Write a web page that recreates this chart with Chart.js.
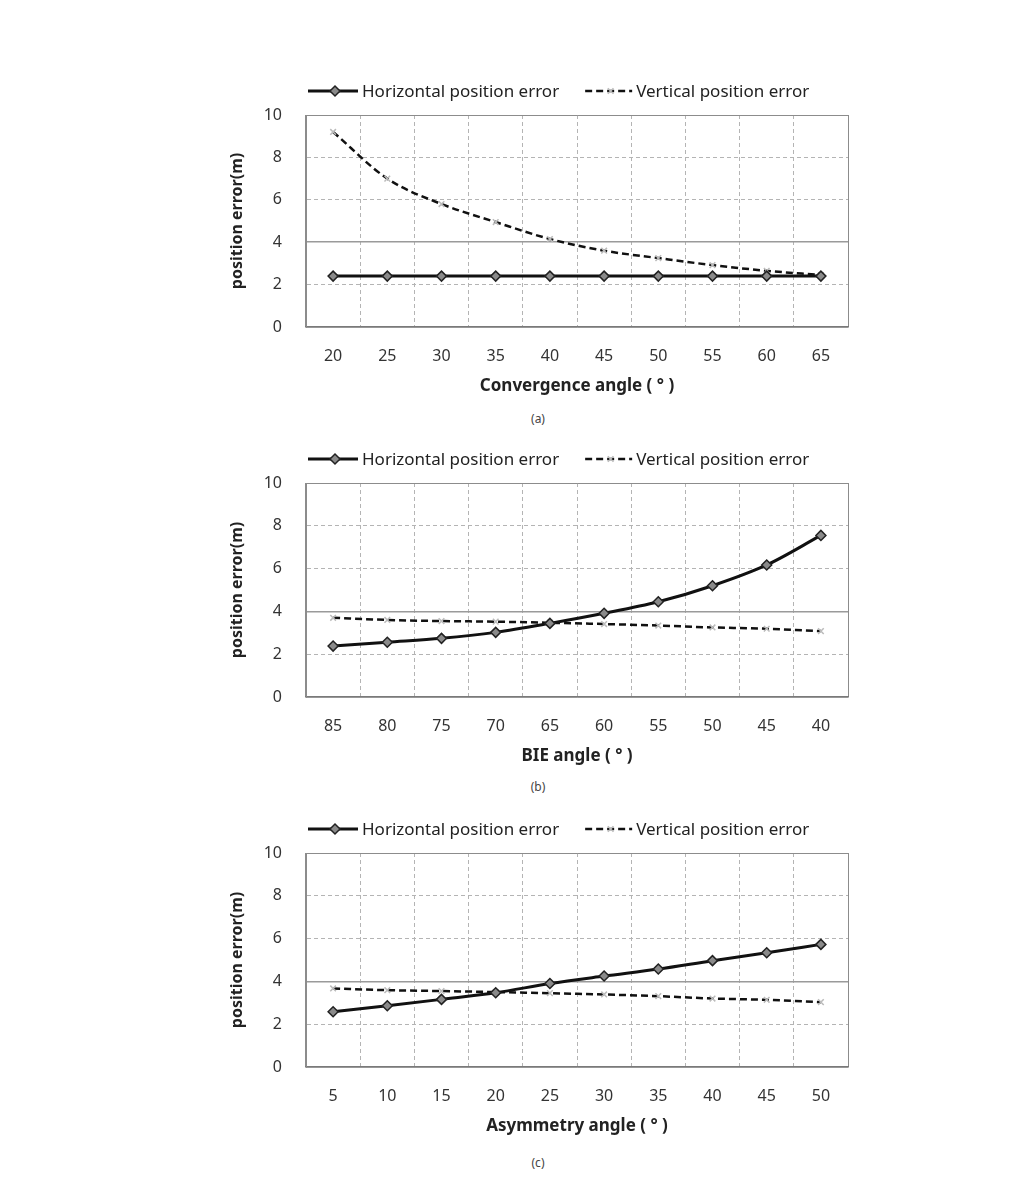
<!DOCTYPE html>
<html>
<head>
<meta charset="utf-8">
<script src="https://cdn.jsdelivr.net/npm/chart.js@4.4.1/dist/chart.umd.min.js"></script>
<style>
  html, body { margin: 0; padding: 0; background: #fff; }
  body { width: 1028px; height: 1189px; position: relative; overflow: hidden; font-family: 'Noto Sans', sans-serif; }
  .box { position: absolute; left: 220px; width: 650px; }
  .caption { position: absolute; width: 40px; left: 518px; text-align: center; font-size: 12px; color: #444; }
</style>
</head>
<body>
<div class="box" style="top:70px;height:330px"><canvas id="chartA"></canvas></div>
<div class="caption" style="top:410px">(a)</div>
<div class="box" style="top:438px;height:332px"><canvas id="chartB"></canvas></div>
<div class="caption" style="top:778px">(b)</div>
<div class="box" style="top:808px;height:332px"><canvas id="chartC"></canvas></div>
<div class="caption" style="top:1154px">(c)</div>

<script>
// categories
const convergenceAngles = ['20', '25', '30', '35', '40', '45', '50', '55', '60', '65'];
const bieAngles = ['85', '80', '75', '70', '65', '60', '55', '50', '45', '40'];
const asymmetryAngles = ['5', '10', '15', '20', '25', '30', '35', '40', '45', '50'];

// series values (m)
const horizA = [2.4, 2.4, 2.4, 2.4, 2.4, 2.4, 2.4, 2.4, 2.4, 2.4];
const vertA = [9.2, 7.0, 5.8, 4.95, 4.15, 3.6, 3.25, 2.92, 2.65, 2.45];
const horizB = [2.38, 2.56, 2.74, 3.02, 3.44, 3.91, 4.45, 5.2, 6.17, 7.55];
const vertB = [3.7, 3.6, 3.55, 3.52, 3.47, 3.41, 3.34, 3.25, 3.19, 3.08];
const horizC = [2.58, 2.86, 3.16, 3.47, 3.9, 4.25, 4.58, 4.97, 5.34, 5.73];
const vertC = [3.67, 3.59, 3.55, 3.5, 3.45, 3.39, 3.31, 3.2, 3.14, 3.03];

const seriesNames = ['Horizontal position error', 'Vertical position error'];
const yTicks = [0, 2, 4, 6, 8, 10];

const FONT = "'Noto Sans', sans-serif";

// legend drawn as line + marker, Excel style
const lineLegend = {
    id: 'lineLegend',
    afterDraw(chart) {
        const ctx = chart.ctx;
        const area = chart.chartArea;
        const y = area.top - 24;
        let x = area.left + 2;
        ctx.save();
        ctx.font = '17px ' + FONT;
        ctx.textBaseline = 'middle';
        chart.data.datasets.forEach((ds, i) => {
            const w = i === 0 ? 50 : 47;
            ctx.strokeStyle = ds.borderColor;
            ctx.lineWidth = ds.borderWidth;
            ctx.setLineDash(ds.borderDash || []);
            ctx.beginPath();
            ctx.moveTo(x, y);
            ctx.lineTo(x + w, y);
            ctx.stroke();
            ctx.setLineDash([]);
            ctx.fillStyle = ds.pointBackgroundColor;
            ctx.strokeStyle = ds.pointBorderColor;
            ctx.lineWidth = ds.pointBorderWidth;
            Chart.helpers.drawPoint(ctx, {
                pointStyle: ds.pointStyle,
                radius: ds.pointRadius,
                rotation: 0,
                borderWidth: ds.pointBorderWidth
            }, x + w / 2 + 2, y);
            x += w + 4;
            ctx.fillStyle = '#222';
            ctx.fillText(seriesNames[i], x, y + 1);
            x += ctx.measureText(seriesNames[i]).width + 26;
        });
        ctx.restore();
    }
};

function makeChart(id, labels, horiz, vert, xTitle) {
    const canvas = document.getElementById(id);
    return new Chart(canvas, {
        type: 'line',
        data: {
            labels: labels,
            datasets: [
                {
                    label: seriesNames[0],
                    data: horiz,
                    borderColor: '#111',
                    borderWidth: 3,
                    pointStyle: 'rectRot',
                    pointRadius: 5,
                    pointBackgroundColor: '#8a8a8a',
                    pointBorderColor: '#222',
                    pointBorderWidth: 1.5,
                    cubicInterpolationMode: 'monotone'
                },
                {
                    label: seriesNames[1],
                    data: vert,
                    borderColor: '#111',
                    borderWidth: 2.5,
                    borderDash: [7, 4],
                    pointStyle: 'crossRot',
                    pointRadius: 4,
                    pointBackgroundColor: '#bbb',
                    pointBorderColor: '#bbb',
                    pointBorderWidth: 1.5,
                    cubicInterpolationMode: 'monotone'
                }
            ]
        },
        options: {
            responsive: true,
            maintainAspectRatio: false,
            animation: false,
            layout: { padding: { top: 45, right: 22, left: 0, bottom: 0 } },
            plugins: {
                legend: { display: false },
                tooltip: { enabled: false }
            },
            scales: {
                x: {
                    type: 'category',
                    offset: true,
                    grid: {
                        offset: true,
                        drawTicks: false,
                        color: ctx => (ctx.index === undefined || ctx.index === 0) ? '#8c8c8c' : '#b4b4b4',
                        lineWidth: 1
                    },
                    border: {
                        color: '#7a7a7a',
                        width: 1.5,
                        dash: ctx => (ctx.index === undefined || ctx.index === 0) ? [] : [4, 3]
                    },
                    ticks: {
                        padding: 20,
                        color: '#333',
                        font: { family: FONT, size: 16 }
                    },
                    title: {
                        display: true,
                        text: xTitle,
                        color: '#222',
                        padding: { top: 0, bottom: 4 },
                        font: { family: FONT, size: 17, weight: 'bold' }
                    },
                    afterFit: scale => { scale.height = 73; }
                },
                y: {
                    min: 0,
                    max: 10,
                    afterBuildTicks: scale => { scale.ticks = yTicks.map(v => ({ value: v })); },
                    grid: {
                        drawTicks: false,
                        color: ctx => {
                            const v = ctx.tick ? ctx.tick.value : 0;
                            if (v === 10) return '#8c8c8c';
                            if (v === 4) return '#9a9a9a';
                            return '#b4b4b4';
                        },
                        lineWidth: ctx => (ctx.tick && ctx.tick.value === 4) ? 1.5 : 1
                    },
                    border: {
                        color: '#8c8c8c',
                        width: 1,
                        dash: ctx => {
                            const v = ctx.tick ? ctx.tick.value : 0;
                            return (v === 0 || v === 4 || v === 10) ? [] : [4, 3];
                        }
                    },
                    ticks: {
                        padding: 24,
                        color: '#333',
                        font: { family: FONT, size: 16 }
                    },
                    title: {
                        display: true,
                        text: 'position error(m)',
                        color: '#222',
                        padding: { top: 8, bottom: 0 },
                        font: { family: FONT, size: 16, weight: 'bold' }
                    },
                    afterFit: scale => { scale.width = 86; }
                }
            }
        },
        plugins: [lineLegend]
    });
}

makeChart('chartA', convergenceAngles, horizA, vertA, 'Convergence angle ( ° )');
makeChart('chartB', bieAngles, horizB, vertB, 'BIE angle ( ° )');
makeChart('chartC', asymmetryAngles, horizC, vertC, 'Asymmetry angle ( ° )');
</script>
</body>
</html>
